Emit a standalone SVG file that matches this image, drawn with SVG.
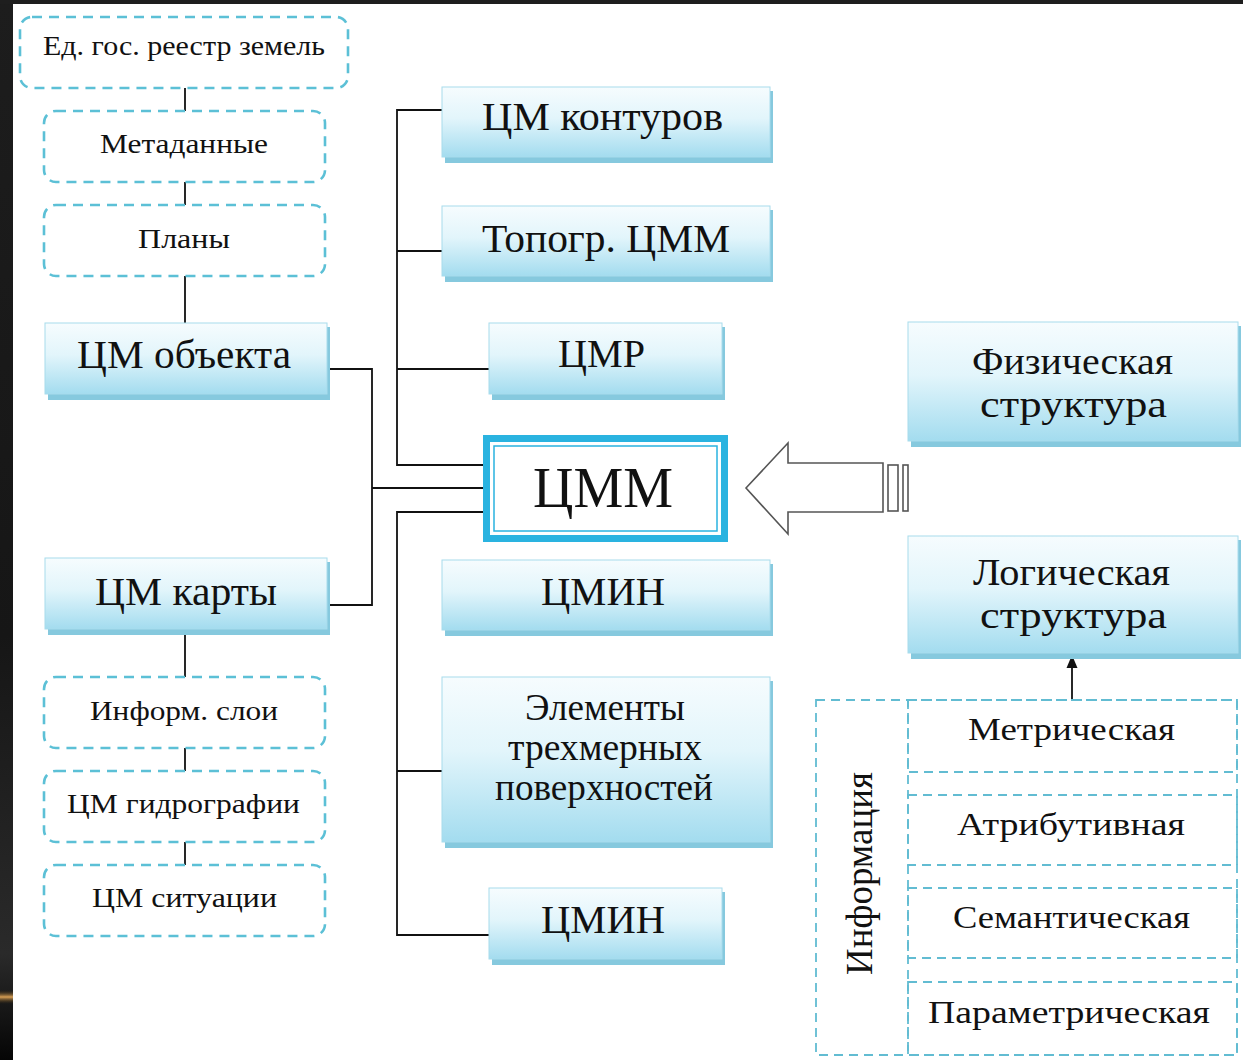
<svg xmlns="http://www.w3.org/2000/svg" width="1243" height="1060" viewBox="0 0 1243 1060">
<defs>
<linearGradient id="gBox" x1="0" y1="0" x2="0" y2="1">
<stop offset="0" stop-color="#f6fcfe"/>
<stop offset="0.45" stop-color="#e2f5fb"/>
<stop offset="1" stop-color="#a3dcef"/>
</linearGradient>
<linearGradient id="gStrip" x1="0" y1="0" x2="0" y2="1">
<stop offset="0" stop-color="#1d1d1d"/>
<stop offset="0.6" stop-color="#161616"/>
<stop offset="0.9" stop-color="#2a2a2a"/>
<stop offset="1" stop-color="#050505"/>
</linearGradient>
<linearGradient id="gGlow" x1="0" y1="0" x2="0" y2="1">
<stop offset="0" stop-color="#3a2a10" stop-opacity="0"/>
<stop offset="0.5" stop-color="#d9a055"/>
<stop offset="1" stop-color="#3a2a10" stop-opacity="0"/>
</linearGradient>
</defs>
<style>
.dash { fill: #ffffff; stroke: #5cc0d6; stroke-width: 2.6; stroke-dasharray: 10 7; }
.dash2 { fill: none; stroke: #62bcd2; stroke-width: 1.8; stroke-dasharray: 9 6; }
.shadow { fill: #86c9de; }
.box { fill: url(#gBox); stroke: #a8dcec; stroke-width: 1; }
.t { font-family: "Liberation Serif", "DejaVu Serif", serif; fill: #111; text-anchor: middle; }
.s28 { font-size: 28px; }
.s31 { font-size: 31px; }
.s37 { font-size: 37px; }
.s39 { font-size: 39px; }
.conn { stroke: #111; stroke-width: 1.8; fill: none; }
</style>

<rect x="0" y="0" width="1243" height="1060" fill="#0c0c0c"/>
<rect x="0" y="0" width="13" height="1060" fill="url(#gStrip)"/>
<rect x="0" y="990" width="13" height="14" fill="url(#gGlow)"/>
<rect x="0" y="0" width="1243" height="4" fill="#1e1e1e"/>
<rect x="13" y="4" width="1230" height="1056" fill="#ffffff"/>

<g id="connectors">
<path class="conn" d="M185,88 V111 M185,182 V205 M185,276 V323"/>
<path class="conn" d="M185,632 V677 M185,748 V771 M185,842 V865"/>
<path class="conn" d="M442,110 H397 V465 H484 M397,251 H442 M397,369 H489"/>
<path class="conn" d="M327,369 H372 V605 H327 M372,488 H484"/>
<path class="conn" d="M484,512 H397 V935 H489 M397,771 H442"/>
<line class="conn" x1="1072" y1="700" x2="1072" y2="666"/>
<polygon points="1072,655 1066.5,668 1077.5,668" fill="#111"/>
</g>

<g id="n-reestr"><rect class="dash" x="20" y="17" width="328" height="71" rx="12"/><text class="t s28" x="184" y="55" textLength="282" lengthAdjust="spacingAndGlyphs">Ед. гос. реестр земель</text></g>
<g id="n-meta"><rect class="dash" x="44" y="111" width="281" height="71" rx="12"/><text class="t s28" x="184" y="153" textLength="168" lengthAdjust="spacingAndGlyphs">Метаданные</text></g>
<g id="n-plany"><rect class="dash" x="44" y="205" width="281" height="71" rx="12"/><text class="t s28" x="184" y="248" textLength="92" lengthAdjust="spacingAndGlyphs">Планы</text></g>

<g id="n-cmobj"><rect class="shadow" x="48" y="327" width="282" height="73"/><rect class="box" x="45" y="323" width="282" height="71"/><text class="t s39" x="184" y="368" textLength="214" lengthAdjust="spacingAndGlyphs">ЦМ объекта</text></g>
<g id="n-cmkarty"><rect class="shadow" x="48" y="562" width="282" height="73"/><rect class="box" x="45" y="558" width="282" height="71"/><text class="t s39" x="186" y="605" textLength="182" lengthAdjust="spacingAndGlyphs">ЦМ карты</text></g>

<g id="n-inform"><rect class="dash" x="44" y="677" width="281" height="71" rx="12"/><text class="t s28" x="184" y="720" textLength="188" lengthAdjust="spacingAndGlyphs">Информ. слои</text></g>
<g id="n-gidro"><rect class="dash" x="44" y="771" width="281" height="71" rx="12"/><text class="t s28" x="183.5" y="813" textLength="233" lengthAdjust="spacingAndGlyphs">ЦМ гидрографии</text></g>
<g id="n-situ"><rect class="dash" x="44" y="865" width="281" height="71" rx="12"/><text class="t s28" x="184.5" y="907" textLength="185" lengthAdjust="spacingAndGlyphs">ЦМ ситуации</text></g>

<g id="n-kontur"><rect class="shadow" x="445" y="91" width="328" height="72"/><rect class="box" x="442" y="87" width="328" height="70"/><text class="t s39" x="602.5" y="130" textLength="241" lengthAdjust="spacingAndGlyphs">ЦМ контуров</text></g>
<g id="n-topo"><rect class="shadow" x="445" y="210" width="328" height="72"/><rect class="box" x="442" y="206" width="328" height="70"/><text class="t s39" x="606" y="252" textLength="248" lengthAdjust="spacingAndGlyphs">Топогр. ЦММ</text></g>
<g id="n-cmr"><rect class="shadow" x="492" y="327" width="233" height="73"/><rect class="box" x="489" y="323" width="233" height="71"/><text class="t s39" x="601.5" y="367" textLength="87" lengthAdjust="spacingAndGlyphs">ЦМР</text></g>

<g id="n-cmm">
<rect x="486.5" y="438.5" width="238" height="100" fill="#ffffff" stroke="#2ab3e0" stroke-width="7"/>
<rect x="494" y="446" width="223" height="85" fill="none" stroke="#2ab3e0" stroke-width="1.5"/>
<text class="t" x="603" y="507" font-size="56" textLength="140" lengthAdjust="spacingAndGlyphs">ЦММ</text>
</g>

<g id="n-cmin1"><rect class="shadow" x="445" y="564" width="328" height="72"/><rect class="box" x="442" y="560" width="328" height="70"/><text class="t s39" x="603" y="605" textLength="124" lengthAdjust="spacingAndGlyphs">ЦМИН</text></g>
<g id="n-elem"><rect class="shadow" x="445" y="681" width="328" height="167"/><rect class="box" x="442" y="677" width="328" height="165"/>
<text class="t s37" x="605" y="720" textLength="160" lengthAdjust="spacingAndGlyphs">Элементы</text><text class="t s37" x="605" y="760" textLength="194" lengthAdjust="spacingAndGlyphs">трехмерных</text><text class="t s37" x="604" y="800" textLength="218" lengthAdjust="spacingAndGlyphs">поверхностей</text></g>
<g id="n-cmin2"><rect class="shadow" x="492" y="892" width="233" height="73"/><rect class="box" x="489" y="888" width="233" height="71"/><text class="t s39" x="603" y="933" textLength="124" lengthAdjust="spacingAndGlyphs">ЦМИН</text></g>

<g id="n-arrow">
<polygon points="746,488 788,443 788,463 883,463 883,512 788,512 788,534" fill="#ffffff" stroke="#555" stroke-width="1.6"/>
<rect x="888" y="465" width="10" height="46" fill="#ffffff" stroke="#555" stroke-width="1.6"/>
<rect x="903" y="465" width="5" height="46" fill="#ffffff" stroke="#555" stroke-width="1.6"/>
</g>

<g id="n-phys"><rect class="shadow" x="911" y="326" width="330" height="121"/><rect class="box" x="908" y="322" width="330" height="119"/>
<text class="t s37" x="1072.5" y="374" textLength="201" lengthAdjust="spacingAndGlyphs">Физическая</text><text class="t s37" x="1073.5" y="417" textLength="187" lengthAdjust="spacingAndGlyphs">структура</text></g>
<g id="n-logic"><rect class="shadow" x="911" y="540" width="330" height="119"/><rect class="box" x="908" y="536" width="330" height="117"/>
<text class="t s37" x="1071.5" y="585" textLength="197" lengthAdjust="spacingAndGlyphs">Логическая</text><text class="t s37" x="1073.5" y="628" textLength="187" lengthAdjust="spacingAndGlyphs">структура</text></g>

<g id="n-info">
<rect class="dash2" x="816" y="700" width="421" height="355"/>
<line class="dash2" x1="908" y1="700" x2="908" y2="1055"/>
<text class="t" font-size="38" transform="translate(872,873.5) rotate(-90)" x="0" y="0" textLength="203" lengthAdjust="spacingAndGlyphs">Информация</text>
</g>
<g id="n-metr"><rect class="dash2" x="908" y="700" width="329" height="72"/><text class="t s31" x="1071.5" y="740" textLength="207" lengthAdjust="spacingAndGlyphs">Метрическая</text></g>
<g id="n-attr"><rect class="dash2" x="908" y="795" width="329" height="70"/><text class="t s31" x="1071" y="835" textLength="228" lengthAdjust="spacingAndGlyphs">Атрибутивная</text></g>
<g id="n-sem"><rect class="dash2" x="908" y="888" width="329" height="70"/><text class="t s31" x="1071.5" y="928" textLength="237" lengthAdjust="spacingAndGlyphs">Семантическая</text></g>
<g id="n-param"><rect class="dash2" x="908" y="982" width="329" height="73"/><text class="t s31" x="1069" y="1023" textLength="282" lengthAdjust="spacingAndGlyphs">Параметрическая</text></g>
</svg>
